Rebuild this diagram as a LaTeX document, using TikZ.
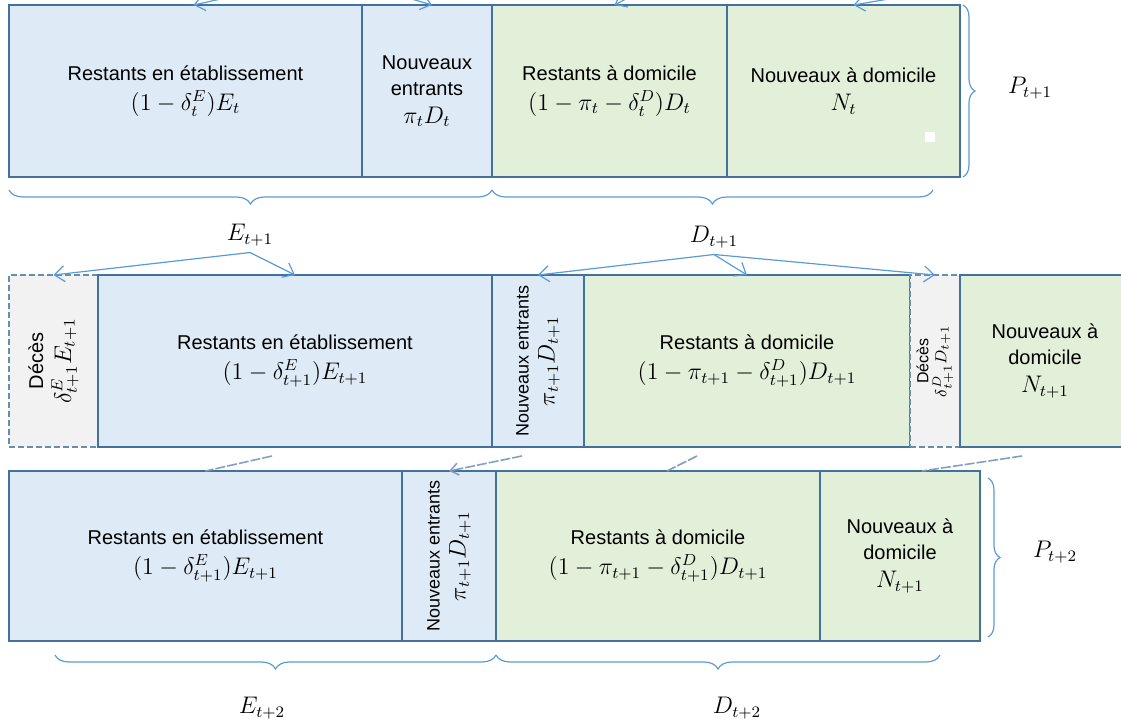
\documentclass[tikz,border=0pt]{standalone}
\usepackage{fontspec}
\setmainfont{Liberation Sans}
\usetikzlibrary{arrows.meta, positioning, calc, decorations.pathreplacing}
\definecolor{boxline}{RGB}{65,113,156}
\definecolor{etabfill}{RGB}{222,235,247}
\definecolor{domfill}{RGB}{226,240,217}
\definecolor{decfill}{RGB}{242,242,242}
\definecolor{linkblue}{RGB}{91,155,213}
\definecolor{linkgray}{RGB}{132,160,190}

\begin{document}
\begin{tikzpicture}[x=0.5pt, y=-0.5pt,
        every node/.style={outer sep=0pt},
        cell/.style={rectangle, draw=boxline, line width=1pt, inner sep=2pt, align=center, font=\fontsize{10}{13}\selectfont},
        etab/.style={cell, fill=etabfill},
        domi/.style={cell, fill=domfill},
        deces/.style={cell, fill=decfill, draw=boxline!80, dash pattern=on 3pt off 1.5pt},
        vtext/.style={rotate=90, align=center, font=\fontsize{9}{12}\selectfont},
        lab/.style={font=\large},
        arrow/.style={draw=linkblue, line width=0.6pt, -{Straight Barb[length=5pt, width=8pt]}},
        hbrace/.style={draw=linkblue, line width=0.6pt, decorate, decoration={brace, mirror, amplitude=7pt}},
        vbrace/.style={draw=linkblue, line width=0.6pt, decorate, decoration={brace, amplitude=6pt}},
        link/.style={draw=linkgray, line width=0.8pt, dash pattern=on 5pt off 1pt}
    ]
        \useasboundingbox (0,0) rectangle (1121,724);
        \clip (0,0) rectangle (1121,724);

        % row t+1
        \node[etab, minimum width=176.5pt, minimum height=86pt, anchor=north west] (r1e) at (9,5) {Restants en établissement\\[2pt] \large $(1-\delta_t^E)E_t$};
        \node[etab, minimum width=65pt, minimum height=86pt, right=0pt of r1e] (r1n) {Nouveaux\\entrants\\[1pt] \large $\pi_t D_t$};
        \node[domi, minimum width=117.5pt, minimum height=86pt, right=0pt of r1n] (r1d) {Restants à domicile\\[2pt] \large $(1-\pi_t-\delta_t^D)D_t$};
        \node[domi, minimum width=116.5pt, minimum height=86pt, right=0pt of r1d] (r1a) {Nouveaux à domicile\\[1pt] \large $N_t$};
        \node[fill=white, minimum size=5pt, inner sep=0pt] (blank) at (930,137) {};

        % row with deaths
        \node[deces, minimum width=44.5pt, minimum height=86pt, anchor=north west] (r2x) at (9,275) {};
        \node[etab, minimum width=197pt, minimum height=86pt, right=0pt of r2x] (r2e) {Restants en établissement\\[2pt] \large $(1-\delta_{t+1}^E)E_{t+1}$};
        \node[etab, minimum width=46pt, minimum height=86pt, right=0pt of r2e] (r2n) {};
        \node[domi, minimum width=163pt, minimum height=86pt, right=0pt of r2n] (r2d) {Restants à domicile\\[2pt] \large $(1-\pi_{t+1}-\delta_{t+1}^D)D_{t+1}$};
        \node[deces, minimum width=25pt, minimum height=86pt, right=0pt of r2d] (r2y) {};
        \node[domi, minimum width=85pt, minimum height=86pt, right=0pt of r2y] (r2a) {Nouveaux à\\domicile\\[1pt] \large $N_{t+1}$};
        \node[vtext, font=\fontsize{10}{13}\selectfont] (r2xt) at (r2x.center) {Décès\\[1pt] \large $\delta_{t+1}^E E_{t+1}$};
        \node[vtext] (r2nt) at (r2n.center) {Nouveaux entrants\\[1pt] \large $\pi_{t+1}D_{t+1}$};
        \node[vtext, font=\fontsize{8}{9}\selectfont] (r2yt) at (r2y.center) {Décès\\ $\delta_{t+1}^D D_{t+1}$};

        % row t+2
        \node[etab, minimum width=196.5pt, minimum height=85pt, anchor=north west] (r3e) at (9,471) {Restants en établissement\\[2pt] \large $(1-\delta_{t+1}^E)E_{t+1}$};
        \node[etab, minimum width=47pt, minimum height=85pt, right=0pt of r3e] (r3n) {};
        \node[domi, minimum width=162pt, minimum height=85pt, right=0pt of r3n] (r3d) {Restants à domicile\\[2pt] \large $(1-\pi_{t+1}-\delta_{t+1}^D)D_{t+1}$};
        \node[domi, minimum width=80pt, minimum height=85pt, right=0pt of r3d] (r3a) {Nouveaux à\\domicile\\[1pt] \large $N_{t+1}$};
        \node[vtext] (r3nt) at (r3n.center) {Nouveaux entrants\\[1pt] \large $\pi_{t+1}D_{t+1}$};

        % braces and labels
        \draw[hbrace] ($(r1e.south west)+(0,13)$) -- ($(r1n.south east)+(0,13)$);
        \draw[hbrace] ($(r1d.south west)+(0,13)$) -- ($(r1a.south east)+(-27,13)$);
        \draw[vbrace] ($(r1a.north east)+(3,0)$) -- ($(r1a.south east)+(3,0)$);
        \draw[vbrace] ($(r3a.north east)+(8,7)$) -- ($(r3a.south east)+(8,-4)$);
        \draw[hbrace] ($(r3e.south west)+(46,14)$) -- ($(r3n.south east)+(0,14)$);
        \draw[hbrace] ($(r3d.south west)+(0,14)$) -- ($(r3a.south east)+(-40,14)$);

        \node[lab] (Et1) at (250,235) {$E_{t+1}$};
        \node[lab] (Dt1) at (714,237) {$D_{t+1}$};
        \node[lab] (Pt1) at (1030,88) {$P_{t+1}$};
        \node[lab] (Pt2) at (1055,552) {$P_{t+2}$};
        \node[lab] (Et2) at (262,708) {$E_{t+2}$};
        \node[lab] (Dt2) at (737,708) {$D_{t+2}$};

        % arrows
        \coordinate (topE) at (330,-25);
        \coordinate (topD) at (700,-40);
        \coordinate (topN) at (1000,-20);
        \draw[arrow] (topE) -- ($(r1e.north)+(8,0)$);
        \draw[arrow] (topE) -- ($(r1n.north)+(5,0)$);
        \draw[arrow] (topD) -- ($(r1d.north)+(5,0)$);
        \draw[arrow] (topN) -- ($(r1a.north)+(10,0)$);
        \draw[arrow] (Et1.south) -- (r2x.north);
        \draw[arrow] (Et1.south) -- (r2e.north);
        \draw[arrow] (Dt1.south) -- (r2n.north);
        \draw[arrow] (Dt1.south) -- (r2d.north);
        \draw[arrow] (Dt1.south) -- (r2y.north);

        \coordinate (l1) at (272,456);
        \coordinate (l2) at (522,456);
        \coordinate (l3) at (697,456);
        \coordinate (l4) at (1022,456);
        \draw[link] (l1) -- (r3e.north);
        \draw[link, -{Straight Barb[length=4pt, width=6pt]}] (l2) -- (r3n.north);
        \draw[link] (l3) -- ($(r3d.north)+(9,0)$);
        \draw[link] (l4) -- ($(r3a.north)+(22,0)$);
    \end{tikzpicture}
\end{document}
